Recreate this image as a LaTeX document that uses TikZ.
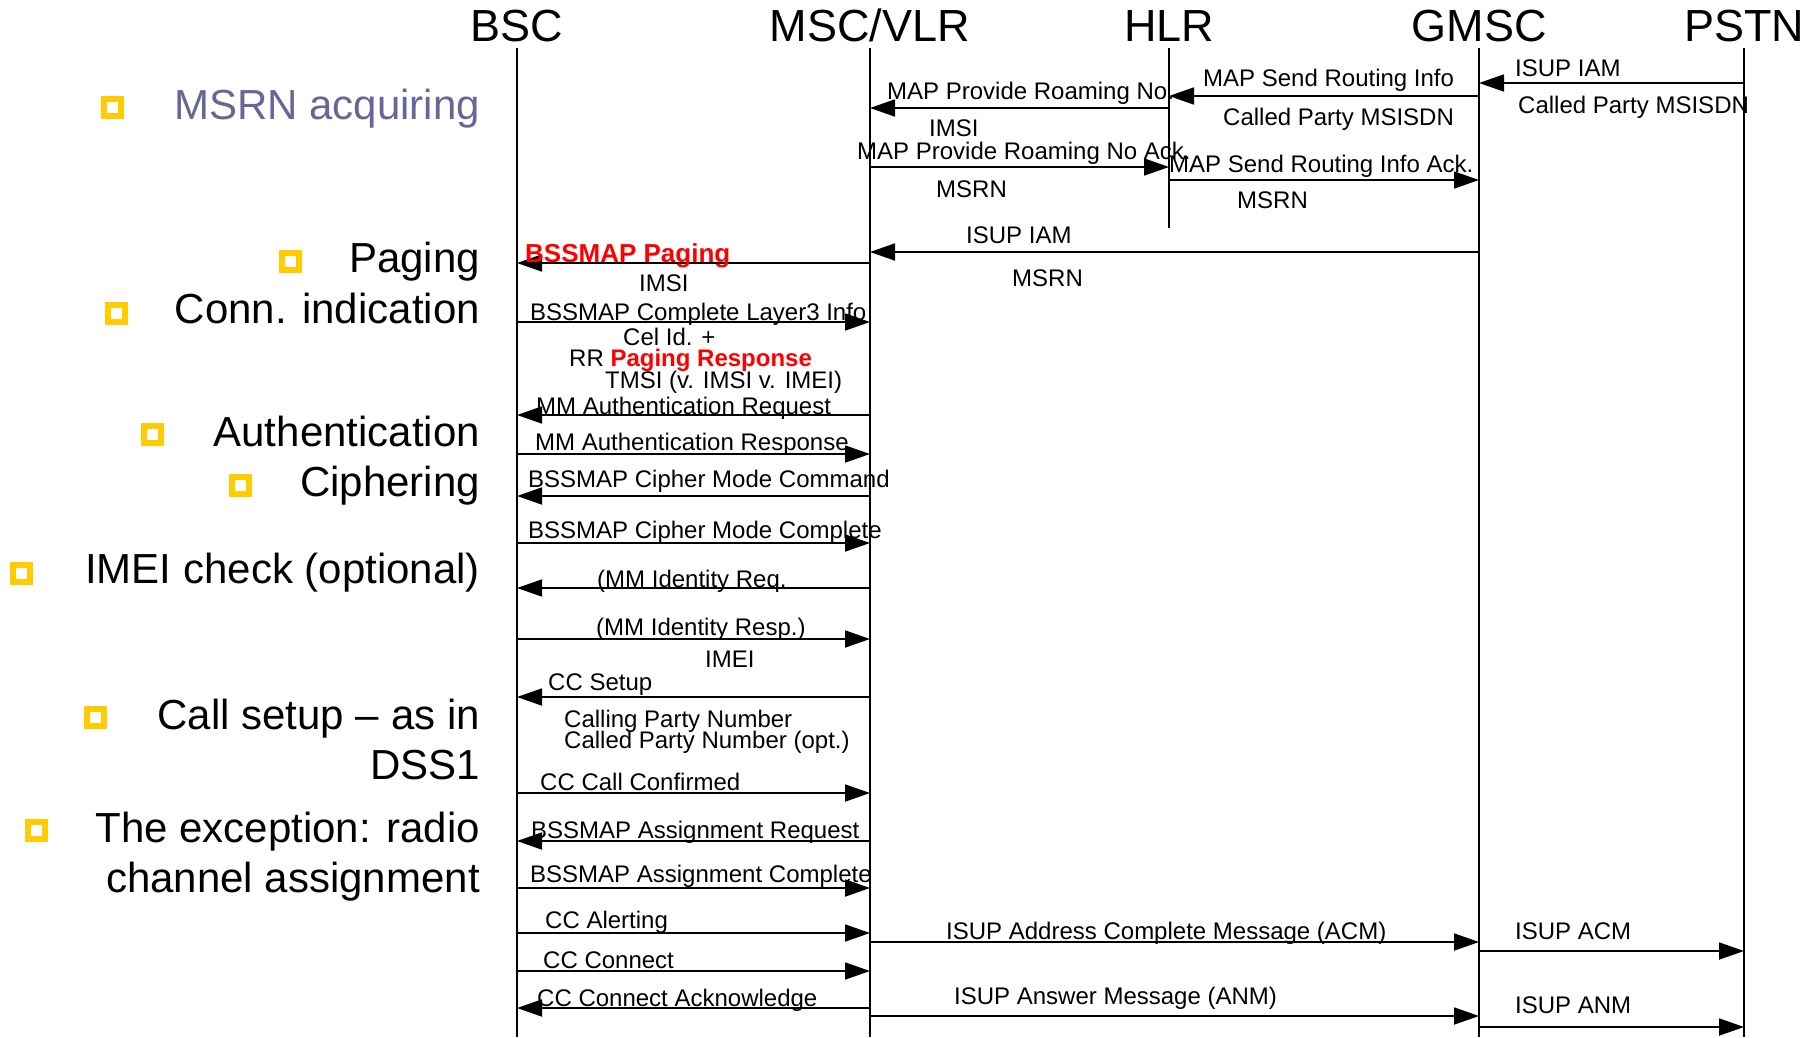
\documentclass[tikz,border=0pt]{standalone}
\usepackage{fontspec}
\setmainfont{Liberation Sans}
\usetikzlibrary{arrows.meta}
\definecolor{bulletyellow}{RGB}{255,204,0}
\definecolor{topicblue}{RGB}{102,102,153}
\tikzset{>={Triangle[length=25pt,width=17pt]}}

\begin{document}
\begin{tikzpicture}[x=1pt,y=-1pt,
  life/.style={line width=1.8pt},
  msg/.style={line width=1.8pt,->},
  hdr/.style={anchor=base,inner sep=0pt,font=\fontsize{45}{50}\selectfont},
  topic/.style={anchor=base east,inner sep=0pt,font=\fontsize{42}{50}\selectfont},
  bul/.style={draw=bulletyellow,line width=6pt,minimum size=17pt,inner sep=0pt},
  lbl/.style={anchor=base west,inner sep=0pt,font=\fontsize{24}{28}\selectfont},
  hot/.style={text=red,font=\fontsize{26}{30}\selectfont\bfseries}]
\fill[white] (0,0) rectangle (1817,1037);
\useasboundingbox (0,0) rectangle (1817,1037);
% entities
\node[hdr] (bsc) at (517,41) {BSC};
\node[hdr] (msc) at (870,41) {MSC/VLR};
\node[hdr] (hlr) at (1169,41) {HLR};
\node[hdr] (gmsc) at (1479,41) {GMSC};
\node[hdr] (pstn) at (1744,41) {PSTN};
\foreach \n in {bsc,msc,gmsc,pstn}
  \draw[life] (\n |- 0,48) -- (\n |- 0,1037);
\draw[life] (hlr |- 0,48) -- (hlr |- 0,228);
% left column
\node[topic,text=topicblue] (msrnacq) at (480,119) {MSRN acquiring};
\node[topic] (pag) at (480,272) {Paging};
\node[topic] (conn) at (480,323) {Conn. indication};
\node[topic] (auth) at (480,446) {Authentication};
\node[topic] (ciph) at (480,496) {Ciphering};
\node[topic] (imei) at (480,583) {IMEI check (optional)};
\node[topic] (setup) at (480,729) {Call setup – as in};
\node[topic] (dss) at (480,779) {DSS1};
\node[topic] (excep) at (480,842) {The exception: radio};
\node[topic] (chan) at (480,892) {channel assignment};
\foreach \x/\y [count=\i] in {112/107,290/261,116/313,152/434,240/485,21/573,95/717,36/830}
  \node[bul] (b\i) at (\x,\y) {};
% messages
\foreach \a/\b/\y in {pstn/gmsc/83,gmsc/hlr/96,hlr/msc/108,msc/hlr/167,hlr/gmsc/180,
    gmsc/msc/252,msc/bsc/263,bsc/msc/322,msc/bsc/415,bsc/msc/454,msc/bsc/496,
    bsc/msc/543,msc/bsc/588,bsc/msc/639,msc/bsc/697,bsc/msc/793,msc/bsc/841,
    bsc/msc/888,bsc/msc/933,msc/gmsc/942,gmsc/pstn/951,bsc/msc/971,msc/bsc/1008,
    msc/gmsc/1016,gmsc/pstn/1027}
  \draw[msg] (\a |- 0,\y) -- (\b |- 0,\y);
\foreach \x/\y/\t [count=\i] in {1515/76/ISUP IAM,1518/113/Called Party MSISDN,
    1203/86/MAP Send Routing Info,1223/125/Called Party MSISDN,
    887/99/MAP Provide Roaming No.,929/136/IMSI,
    857/159/MAP Provide Roaming No Ack.,936/197/MSRN,
    1169/172/MAP Send Routing Info Ack.,1237/208/MSRN,
    966/243/ISUP IAM,1012/286/MSRN,639/291/IMSI,
    530/320/BSSMAP Complete Layer3 Info,623/345/Cel Id. +,
    605/388/TMSI (v. IMSI v. IMEI),536/414/MM Authentication Request,
    535/450/MM Authentication Response,528/487/BSSMAP Cipher Mode Command,
    528/538/BSSMAP Cipher Mode Complete,597/587/(MM Identity Req.,
    596/635/(MM Identity Resp.),705/667/IMEI,548/690/CC Setup,
    564/727/Calling Party Number,564/748/Called Party Number (opt.),
    540/790/CC Call Confirmed,531/838/BSSMAP Assignment Request,
    530/882/BSSMAP Assignment Complete,545/928/CC Alerting,
    946/939/ISUP Address Complete Message (ACM),1515/939/ISUP ACM,
    543/968/CC Connect,537/1006/CC Connect Acknowledge,
    954/1004/ISUP Answer Message (ANM),1515/1013/ISUP ANM}
  \node[lbl] (m\i) at (\x,\y) {\t};
\node[lbl,hot] (bsspag) at (525,262) {BSSMAP Paging};
\node[lbl] (rrpag) at (569,366) {RR {\bfseries\color{red}Paging Response}};
\end{tikzpicture}
\end{document}
